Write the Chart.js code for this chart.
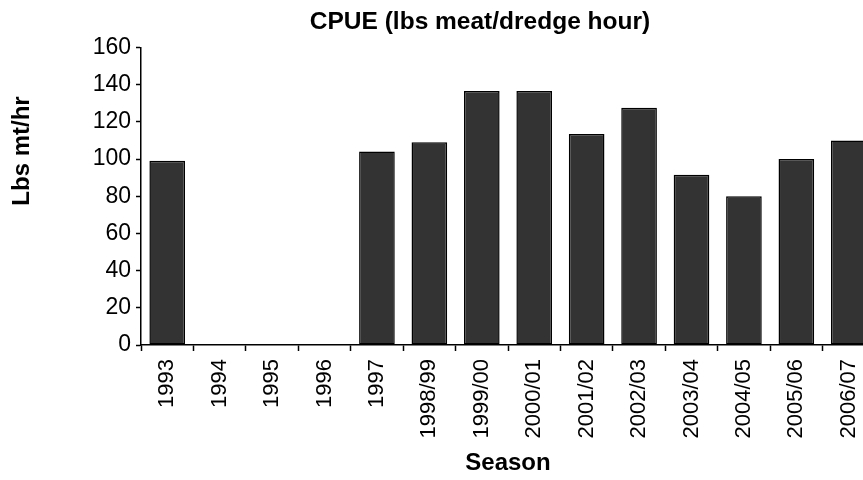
<!DOCTYPE html>
<html>
<head>
<meta charset="utf-8">
<script src="https://cdn.jsdelivr.net/npm/chart.js@4/dist/chart.umd.min.js"></script>
<style>
  html, body { margin: 0; padding: 0; background: #fff; overflow: hidden; }
  #wrap { width: 960px; height: 480px; }
</style>
</head>
<body>
<div id="wrap"><canvas id="cpue-chart" width="960" height="480"></canvas></div>
<script>
const chartTitle = "CPUE (lbs meat/dredge hour)";
const xTitle = "Season";
const yTitle = "Lbs mt/hr";
const seasons = ["1993", "1994", "1995", "1996", "1997", "1998/99", "1999/00", "2000/01",
  "2001/02", "2002/03", "2003/04", "2004/05", "2005/06", "2006/07"];
// blank seasons had no data in the source sheet
const cpueValues = [99, null, null, null, 104, 109, 136.5, 136.5, 113.5, 127.5, 91.5, 80, 100, 110];
const yTicks = [0, 20, 40, 60, 80, 100, 120, 140, 160];

const FONT = "'Liberation Sans', Arial, sans-serif";

// y axis title sits higher than the plot centre, as in the spreadsheet original
const yTitlePlugin = {
  id: "yTitle",
  afterDraw(chart) {
    const ctx = chart.ctx;
    ctx.save();
    ctx.translate(22, 151);
    ctx.rotate(-Math.PI / 2);
    ctx.font = "bold 24px " + FONT;
    ctx.fillStyle = "#000";
    ctx.textAlign = "center";
    ctx.textBaseline = "middle";
    ctx.fillText(yTitle, 0, 0);
    ctx.restore();
  },
};

new Chart(document.getElementById("cpue-chart"), {
  type: "bar",
  data: {
    labels: seasons,
    datasets: [
      {
        data: cpueValues,
        backgroundColor: "#333333",
        borderColor: "#000000",
        borderWidth: 1.5,
        borderSkipped: false,
        categoryPercentage: 1,
        barPercentage: 0.68,
      },
    ],
  },
  options: {
    responsive: false,
    animation: false,
    devicePixelRatio: 1,
    layout: { padding: 0 },
    plugins: {
      legend: { display: false },
      tooltip: { enabled: false },
      title: {
        display: true,
        text: chartTitle,
        color: "#000",
        font: { family: FONT, size: 24.5, weight: "bold" },
        padding: { top: 8, bottom: 10 },
      },
    },
    scales: {
      x: {
        grid: {
          display: true,
          drawOnChartArea: false,
          drawTicks: true,
          tickLength: 6,
          tickWidth: 1.5,
          color: "#000",
          offset: true,
        },
        border: { display: true, color: "#000", width: 1.5 },
        ticks: {
          color: "#000",
          font: { family: FONT, size: 22 },
          minRotation: 90,
          maxRotation: 90,
          autoSkip: false,
          padding: 8,
        },
        title: {
          display: true,
          text: xTitle,
          color: "#000",
          font: { family: FONT, size: 24, weight: "bold" },
          padding: { top: 0, bottom: 2 },
        },
        afterFit(scale) { scale.height = 135; },
      },
      y: {
        min: 0,
        max: 160,
        afterBuildTicks(scale) { scale.ticks = yTicks.map((v) => ({ value: v })); },
        grid: {
          display: true,
          drawOnChartArea: false,
          drawTicks: true,
          tickLength: 5,
          tickWidth: 1.5,
          color: "#000",
        },
        border: { display: true, color: "#000", width: 1.5 },
        ticks: {
          color: "#000",
          font: { family: FONT, size: 23 },
          padding: 5,
        },
        title: { display: false },
        afterFit(scale) { scale.width = 141; },
      },
      // empty right-hand box: the original plot runs off the right edge of the picture
      spacer: {
        type: "linear",
        position: "right",
        display: true,
        grid: { display: false },
        border: { display: false },
        ticks: { display: false },
        afterFit(scale) { scale.width = 85; },
      },
    },
  },
  plugins: [yTitlePlugin],
});
</script>
</body>
</html>
